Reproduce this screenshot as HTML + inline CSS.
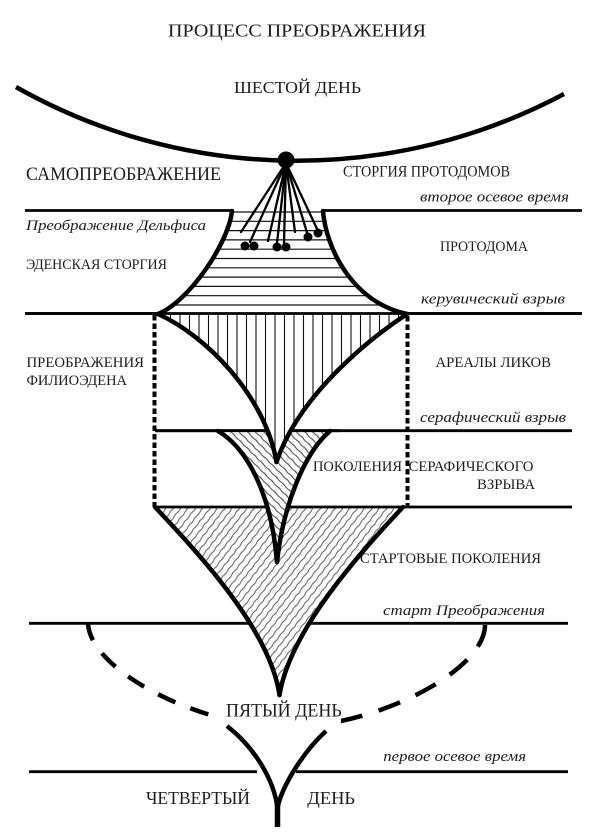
<!DOCTYPE html>
<html>
<head>
<meta charset="utf-8">
<style>
  html,body{margin:0;padding:0;background:#fff;}
  svg{display:block;}
  .t{font-family:"Liberation Serif","DejaVu Serif",serif;fill:#1c1c1c;}
  .i{font-family:"Liberation Serif","DejaVu Serif",serif;font-style:italic;fill:#1c1c1c;}
</style>
</head>
<body>
<svg width="613" height="835" viewBox="0 0 613 835" xmlns="http://www.w3.org/2000/svg">
<defs>
  <clipPath id="trap"><path d="M232,211 C228,245 188,302 158,314 L407,314 C352,302 326,248 323,211 Z"/></clipPath>
  <clipPath id="tri"><path d="M158,314 C205,335 265,395 276.5,462 C300,392 375,335 407,314 Z"/></clipPath>
  <clipPath id="midv"><path d="M218,431 C250,450 272,500 277,562 C283,505 305,452 330,431 Z"/></clipPath>
  <clipPath id="bigt"><path d="M155,507 C200,555 270,630 279.5,695 C290,630 360,553 403,507 Z"/></clipPath>
  <pattern id="wv" patternUnits="userSpaceOnUse" width="10" height="5.8" patternTransform="rotate(-52)">
    <path d="M0,2.9 Q2.5,2.2 5,2.9 T10,2.9" fill="none" stroke="#555" stroke-width="1"/>
  </pattern>
  <pattern id="dg" patternUnits="userSpaceOnUse" width="10" height="5.8" patternTransform="rotate(45)">
    <path d="M0,2.9 Q2.5,2.3 5,2.9 T10,2.9" fill="none" stroke="#444" stroke-width="1"/>
  </pattern>
</defs>

<rect width="613" height="835" fill="#fff"/>

<!-- horizontal lines -->
<g stroke="#000" stroke-width="2.8" fill="none">
  <line x1="25" y1="210.5" x2="232" y2="210.5"/>
  <line x1="323" y1="210.5" x2="582" y2="210.5"/>
  <line x1="25" y1="313.5" x2="582" y2="313.5"/>
  <line x1="155" y1="430.7" x2="572" y2="430.7"/>
  <line x1="29" y1="623.3" x2="568" y2="623.3"/>
  <line x1="29" y1="771.7" x2="257" y2="771.7"/>
  <line x1="296" y1="771.7" x2="568" y2="771.7"/>
</g>

<!-- big bottom triangle fill -->
<path d="M155,507 C200,555 270,630 279.5,695 C290,630 360,553 403,507 Z" fill="#fff"/>
<rect x="140" y="500" width="280" height="200" fill="url(#wv)" clip-path="url(#bigt)"/>
<line x1="155" y1="507" x2="572" y2="507" stroke="#000" stroke-width="2.8"/>

<!-- middle V fill -->
<path d="M218,431 C250,450 272,500 277,562 C283,505 305,452 330,431 Z" fill="#fff"/>
<rect x="210" y="425" width="130" height="145" fill="url(#dg)" clip-path="url(#midv)"/>
<line x1="155" y1="430.7" x2="340" y2="430.7" stroke="#000" stroke-width="2.8"/>

<!-- vertical hatched triangle -->
<path d="M158,314 C205,335 265,395 276.5,462 C300,392 375,335 407,314 Z" fill="#fff"/>
<g clip-path="url(#tri)" stroke="#111" stroke-width="1.1">
  <line x1="170.5" y1="310" x2="170.5" y2="470"/><line x1="180" y1="310" x2="180" y2="470"/>
  <line x1="189.5" y1="310" x2="189.5" y2="470"/><line x1="199" y1="310" x2="199" y2="470"/>
  <line x1="208.5" y1="310" x2="208.5" y2="470"/><line x1="218" y1="310" x2="218" y2="470"/>
  <line x1="227.5" y1="310" x2="227.5" y2="470"/><line x1="237" y1="310" x2="237" y2="470"/>
  <line x1="246.5" y1="310" x2="246.5" y2="470"/><line x1="256" y1="310" x2="256" y2="470"/>
  <line x1="265.5" y1="310" x2="265.5" y2="470"/><line x1="275" y1="310" x2="275" y2="470"/>
  <line x1="284.5" y1="310" x2="284.5" y2="470"/><line x1="294" y1="310" x2="294" y2="470"/>
  <line x1="303.5" y1="310" x2="303.5" y2="470"/><line x1="313" y1="310" x2="313" y2="470"/>
  <line x1="322.5" y1="310" x2="322.5" y2="470"/><line x1="332" y1="310" x2="332" y2="470"/>
  <line x1="341.5" y1="310" x2="341.5" y2="470"/><line x1="351" y1="310" x2="351" y2="470"/>
  <line x1="360.5" y1="310" x2="360.5" y2="470"/><line x1="370" y1="310" x2="370" y2="470"/>
  <line x1="379.5" y1="310" x2="379.5" y2="470"/><line x1="389" y1="310" x2="389" y2="470"/>
  <line x1="398.5" y1="310" x2="398.5" y2="470"/>
</g>

<!-- upper trapezoid with horizontal hatch -->
<path d="M232,211 C228,245 188,302 158,314 L407,314 C352,302 326,248 323,211 Z" fill="#fff"/>
<g clip-path="url(#trap)" stroke="#111" stroke-width="1.2">
  <line x1="150" y1="212" x2="420" y2="212"/>
  <line x1="150" y1="221.3" x2="420" y2="221.3"/>
  <line x1="150" y1="230.6" x2="420" y2="230.6"/>
  <line x1="150" y1="239.9" x2="420" y2="239.9"/>
  <line x1="150" y1="249.2" x2="420" y2="249.2"/>
  <line x1="150" y1="258.5" x2="420" y2="258.5"/>
  <line x1="150" y1="267.8" x2="420" y2="267.8"/>
  <line x1="150" y1="277.1" x2="420" y2="277.1"/>
  <line x1="150" y1="286.4" x2="420" y2="286.4"/>
  <line x1="150" y1="295.7" x2="420" y2="295.7"/>
  <line x1="150" y1="305" x2="420" y2="305"/>
</g>
<line x1="25" y1="313.5" x2="582" y2="313.5" stroke="#000" stroke-width="2.8"/>

<!-- dashed rectangle sides -->
<g stroke="#000" stroke-width="4" stroke-dasharray="5.5 3" fill="none">
  <line x1="154.5" y1="315" x2="154.5" y2="507"/>
  <line x1="407.5" y1="316" x2="407.5" y2="507"/>
</g>

<!-- dashed ellipse -->
<g stroke="#000" stroke-width="4.5" fill="none">
  <path d="M88,622 C88,669 197.5,727 287,727" stroke-dasharray="19 16"/>
  <path d="M485,625 C485,671 376,727 287,727" stroke-dasharray="23 17"/>
</g>
<rect x="211" y="699" width="130" height="32" fill="#fff"/>

<!-- top arc and fan -->
<path d="M16,87 A570,570 0 0 0 564,94" fill="none" stroke="#000" stroke-width="4.5"/>
<g stroke="#000" stroke-width="2.3" stroke-linecap="round">
  <line x1="286" y1="163" x2="241" y2="232"/>
  <line x1="286" y1="163" x2="250" y2="242"/>
  <line x1="286" y1="163" x2="268" y2="241"/>
  <line x1="286" y1="163" x2="277" y2="243"/>
  <line x1="286" y1="163" x2="284" y2="243"/>
  <line x1="286" y1="163" x2="295" y2="232"/>
  <line x1="286" y1="163" x2="308" y2="236"/>
  <line x1="286" y1="163" x2="318" y2="231"/>
</g>
<circle cx="286" cy="160" r="8.5" fill="#000"/>
<g fill="#000">
  <circle cx="245" cy="246" r="4.5"/>
  <circle cx="254" cy="246" r="4.5"/>
  <circle cx="277" cy="247" r="4.5"/>
  <circle cx="286" cy="247" r="4.5"/>
  <circle cx="308" cy="237" r="4.5"/>
  <circle cx="318" cy="233" r="4.5"/>
</g>

<!-- thick curves -->
<g stroke="#000" stroke-width="4.5" fill="none" stroke-linecap="round" stroke-linejoin="round">
  <path d="M232,211 C228,245 188,302 158,314"/>
  <path d="M323,211 C326,248 352,302 407,314"/>
  <path d="M158,314 C205,335 265,395 276.5,462"/>
  <path d="M407,314 C375,335 300,392 276.5,462"/>
  <path d="M218,431 C250,450 272,500 277,562"/>
  <path d="M330,431 C305,452 283,505 277,562"/>
  <path d="M155,507 C200,555 270,630 279.5,695"/>
  <path d="M403,507 C360,553 290,630 279.5,695"/>
  <path d="M227,726 C255,748 274,780 277.5,808" stroke-linecap="butt"/>
  <path d="M326,731 C305,750 282,785 277.5,808" stroke-linecap="butt"/>
  <line x1="277.5" y1="798" x2="277.5" y2="827" stroke-width="5.5" stroke-linecap="butt"/>
</g>

<!-- text -->
<text class="t" x="168" y="36.7" font-size="17.5" textLength="258" lengthAdjust="spacingAndGlyphs">ПРОЦЕСС ПРЕОБРАЖЕНИЯ</text>
<text class="t" x="234" y="93" font-size="17" textLength="127" lengthAdjust="spacingAndGlyphs">ШЕСТОЙ ДЕНЬ</text>
<text class="t" x="26" y="180" font-size="18.5" textLength="195" lengthAdjust="spacingAndGlyphs">САМОПРЕОБРАЖЕНИЕ</text>
<text class="t" x="343" y="176.7" font-size="15.5" textLength="167" lengthAdjust="spacingAndGlyphs">СТОРГИЯ ПРОТОДОМОВ</text>
<text class="i" x="420" y="201.7" font-size="15" textLength="149" lengthAdjust="spacingAndGlyphs">второе осевое время</text>
<text class="i" x="26" y="230" font-size="15" textLength="180" lengthAdjust="spacingAndGlyphs">Преображение Дельфиса</text>
<text class="t" x="26" y="269" font-size="15" textLength="141" lengthAdjust="spacingAndGlyphs">ЭДЕНСКАЯ СТОРГИЯ</text>
<text class="t" x="440" y="251" font-size="15" textLength="88" lengthAdjust="spacingAndGlyphs">ПРОТОДОМА</text>
<text class="i" x="421" y="303.3" font-size="15" textLength="144" lengthAdjust="spacingAndGlyphs">керувический взрыв</text>
<text class="t" x="26.5" y="367" font-size="15" textLength="117.5" lengthAdjust="spacingAndGlyphs">ПРЕОБРАЖЕНИЯ</text>
<text class="t" x="26.5" y="385" font-size="15" textLength="100.5" lengthAdjust="spacingAndGlyphs">ФИЛИОЭДЕНА</text>
<text class="t" x="435.5" y="367" font-size="15" textLength="115.5" lengthAdjust="spacingAndGlyphs">АРЕАЛЫ ЛИКОВ</text>
<text class="i" x="420" y="422" font-size="15" textLength="146" lengthAdjust="spacingAndGlyphs">серафический взрыв</text>
<text class="t" x="313" y="471" font-size="15" textLength="89" lengthAdjust="spacingAndGlyphs">ПОКОЛЕНИЯ</text>
<text class="t" x="408.5" y="471" font-size="15" textLength="125" lengthAdjust="spacingAndGlyphs">СЕРАФИЧЕСКОГО</text>
<text class="t" x="477" y="489" font-size="15" textLength="58" lengthAdjust="spacingAndGlyphs">ВЗРЫВА</text>
<text class="t" x="360" y="563" font-size="15" textLength="181" lengthAdjust="spacingAndGlyphs">СТАРТОВЫЕ ПОКОЛЕНИЯ</text>
<text class="i" x="383" y="615" font-size="15" textLength="162" lengthAdjust="spacingAndGlyphs">старт Преображения</text>
<text class="t" x="226" y="716.7" font-size="18.5" textLength="115.7" lengthAdjust="spacingAndGlyphs">ПЯТЫЙ ДЕНЬ</text>
<text class="i" x="383.3" y="761" font-size="15" textLength="142.7" lengthAdjust="spacingAndGlyphs">первое осевое время</text>
<text class="t" x="146" y="804" font-size="18" textLength="104" lengthAdjust="spacingAndGlyphs">ЧЕТВЕРТЫЙ</text>
<text class="t" x="307.3" y="804" font-size="18" textLength="47.7" lengthAdjust="spacingAndGlyphs">ДЕНЬ</text>
</svg>
</body>
</html>
